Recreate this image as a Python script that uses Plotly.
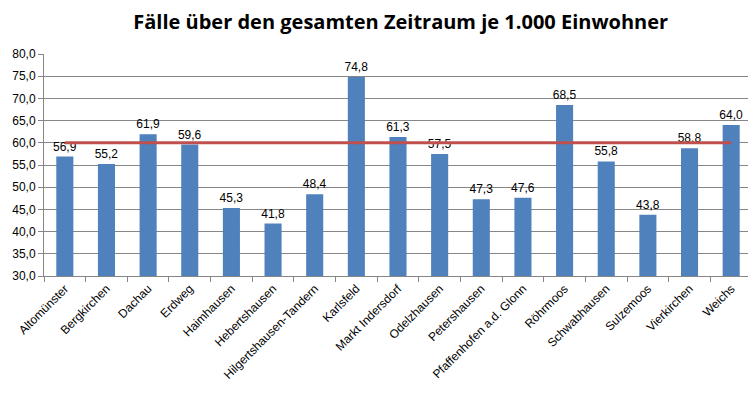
import plotly.graph_objects as go

categories = ["Altomünster", "Bergkirchen", "Dachau", "Erdweg", "Haimhausen", "Hebertshausen",
              "Hilgertshausen-Tandern", "Karlsfeld", "Markt Indersdorf", "Odelzhausen",
              "Petershausen", "Pfaffenhofen a.d. Glonn", "Röhrmoos", "Schwabhausen",
              "Sulzemoos", "Vierkirchen", "Weichs"]
values = [56.9, 55.2, 61.9, 59.6, 45.3, 41.8, 48.4, 74.8, 61.3, 57.5, 47.3, 47.6, 68.5, 55.8, 43.8, 58.8, 64.0]
reference_value = 60.0

fig = go.Figure()
fig.add_trace(go.Bar(
    x=categories, y=values, marker_color="#4F81BD", marker_line_width=0,
    texttemplate="%{y:.1f}", textposition="outside", constraintext="none",
    textfont=dict(family="Liberation Sans, Arial", size=12, color="#000000"),
    cliponaxis=False,
))
fig.add_trace(go.Scatter(
    x=[categories[0], categories[-1]], y=[reference_value, reference_value],
    mode="lines", line=dict(color="#C0504D", width=3),
))
fig.update_layout(
    width=748, height=390,
    margin=dict(l=36, r=4, t=46, b=122),
    paper_bgcolor="white", plot_bgcolor="white",
    showlegend=False, bargap=0.59,
    separators=",.",
    title=dict(text="<b>Fälle über den gesamten Zeitraum je 1.000 Einwohner</b>",
               x=0.525, xanchor="center", y=0.964, yanchor="middle",
               font=dict(family="Open Sans, Liberation Sans", size=20, color="#000000")),
    font=dict(family="Liberation Sans, Arial", size=11, color="#000000"),
)
fig.update_yaxes(range=[30, 80], dtick=5, tickformat=".1f", showgrid=True,
                 gridcolor="#868686", gridwidth=1, showline=True, linecolor="#868686",
                 ticks="outside", ticklen=5, tickcolor="#868686", zeroline=False,
                 tickfont=dict(size=12))
fig.update_xaxes(tickangle=-45, showline=True, linecolor="#868686", ticks="outside",
                 tickson="boundaries", ticklen=5, tickcolor="#868686",
                 tickfont=dict(size=12))
fig.write_html("out.html")
